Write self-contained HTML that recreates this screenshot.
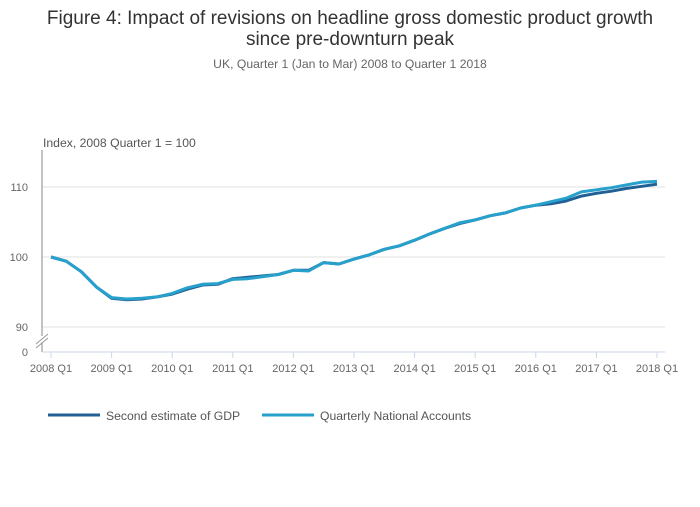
<!DOCTYPE html>
<html><head><meta charset="utf-8"><style>
body{margin:0;background:#fff;width:700px;height:502px;overflow:hidden;font-family:"Liberation Sans",sans-serif}
</style></head><body>
<svg id="chart" width="700" height="502" xmlns="http://www.w3.org/2000/svg" font-family="Liberation Sans, sans-serif">
<text x="350" y="24" text-anchor="middle" font-size="19" fill="#333">Figure 4: Impact of revisions on headline gross domestic product growth</text>
<text x="350" y="45" text-anchor="middle" font-size="19" fill="#333">since pre-downturn peak</text>
<text x="350" y="68" text-anchor="middle" font-size="12.2" fill="#666">UK, Quarter 1 (Jan to Mar) 2008 to Quarter 1 2018</text>
<text x="43" y="147" font-size="12.2" fill="#555">Index, 2008 Quarter 1 = 100</text>
<g id="grid"></g>
<g id="axes"></g>
<g id="series"></g>
<g id="legend"></g>
</svg>
<script>
const yTicks=[90,100,110];
const xLabels=["2008 Q1","2009 Q1","2010 Q1","2011 Q1","2012 Q1","2013 Q1","2014 Q1","2015 Q1","2016 Q1","2017 Q1","2018 Q1"];
const secondEstimate=[100.0,99.4,97.9,95.7,94.1,93.9,94.0,94.3,94.7,95.4,96.0,96.1,96.9,97.1,97.3,97.5,98.1,98.1,99.2,99.0,99.7,100.3,101.1,101.6,102.4,103.3,104.1,104.8,105.3,105.9,106.3,107.0,107.4,107.6,108.0,108.7,109.1,109.4,109.8,110.1,110.4];
const qna=[100.0,99.4,97.9,95.7,94.2,94.0,94.1,94.3,94.8,95.6,96.1,96.2,96.8,96.9,97.2,97.5,98.1,98.0,99.2,99.0,99.7,100.3,101.1,101.6,102.4,103.3,104.1,104.9,105.3,105.9,106.3,107.0,107.4,107.9,108.4,109.3,109.6,109.9,110.3,110.7,110.8];
const seriesNames=["Second estimate of GDP","Quarterly National Accounts"];
const NS="http://www.w3.org/2000/svg";
const x0=51,x1=657,yv0=100,ypx0=257,pxPerUnit=7;
const xs=i=>x0+(x1-x0)*i/40;
const ys=v=>ypx0-(v-yv0)*pxPerUnit;
function mk(t,a,p){const e=document.createElementNS(NS,t);for(const k in a)e.setAttribute(k,a[k]);p.appendChild(e);return e;}
const grid=document.getElementById('grid'),axes=document.getElementById('axes'),ser=document.getElementById('series'),leg=document.getElementById('legend');
yTicks.forEach(v=>{
 const l=mk('line',{x1:42,x2:665,y1:ys(v),y2:ys(v),stroke:'#e2e2e2'},grid);
 
 
 const t=mk('text',{x:28,y:ys(v)+4,'text-anchor':'end','font-size':11,fill:'#666'},axes);
 t.textContent=v;
 
 
});
const zt=mk('text',{x:28,y:356,'text-anchor':'end','font-size':11,fill:'#666'},axes);zt.textContent='0';


const ya=mk('line',{x1:42,x2:42,y1:150,y2:352,stroke:'#888'},axes);


mk('rect',{x:36,y:336,width:12,height:6,fill:'#fff'},axes);
const br2=mk('path',{d:'M36,344 L48,334 M36,348 L48,338',stroke:'#999',fill:'none'},axes);


const xa=mk('line',{x1:42,x2:665,y1:352,y2:352,stroke:'#ccd6eb'},axes);


xLabels.forEach((s,k)=>{
 const x=xs(k*4);
 mk('line',{x1:x,x2:x,y1:352,y2:358,stroke:'#ccd6eb'},axes);
 const t=mk('text',{x:x,y:372,'text-anchor':'middle','font-size':11,fill:'#666'},axes);
 t.textContent=s;
 
 
});
const colors=['#206095','#27a0cc'];
[secondEstimate,qna].forEach((arr,j)=>{
 const p=mk('path',{d:arr.map((v,i)=>(i?'L':'M')+xs(i).toFixed(1)+','+ys(v).toFixed(1)).join(''),fill:'none',stroke:colors[j],'stroke-width':3,'stroke-linejoin':'round'},ser);
 
 
});
const lx=[48,262];
seriesNames.forEach((n,j)=>{
 const g=mk('g',{},leg);
 
 
 mk('line',{x1:lx[j],x2:lx[j]+52,y1:415,y2:415,stroke:colors[j],'stroke-width':3},g);
 const t=mk('text',{x:lx[j]+58,y:420,'font-size':12.2,fill:'#555'},g);t.textContent=n;
});
</script>
</body></html>
